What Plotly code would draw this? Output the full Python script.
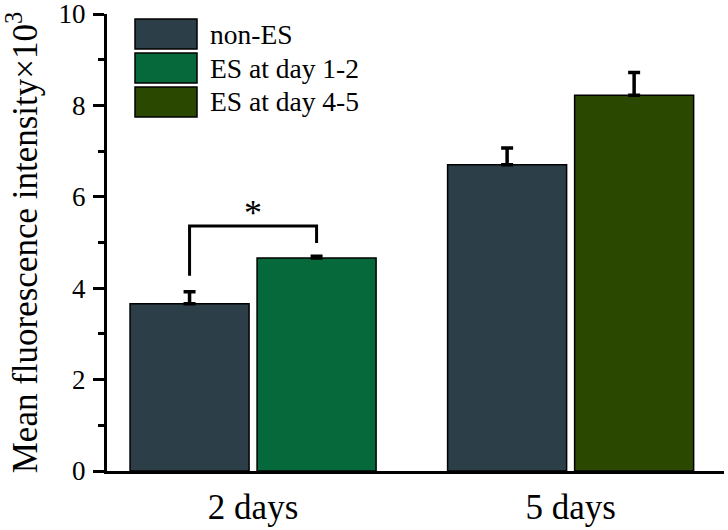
import plotly.graph_objects as go

# ---- data ----
groups = ["2 days", "5 days"]
non_es_vals = [3.66, 6.70]
non_es_err = [0.26, 0.37]
es12_groups = ["2 days"]
es12_vals = [4.66]
es12_err = [0.04]
es45_groups = ["5 days"]
es45_vals = [8.22]
es45_err = [0.50]
series_names = ["non-ES", "ES at day 1-2", "ES at day 4-5"]
series_colors = ["#2C3E47", "#06693B", "#2A4800"]
y_ticks = [0, 2, 4, 6, 8, 10]
sig_label = "*"
sig_levels = [4.27, 5.36, 4.99]  # left foot, top, right foot of bracket

FONT = "Liberation Serif, Times New Roman, serif"
W, H = 728, 530
L, R, T, B = 107, 4, 14, 59

fig = go.Figure()
err_style = dict(type="data", symmetric=False, thickness=3.5, width=6, color="black")

fig.add_trace(go.Bar(
    x=groups, y=non_es_vals, name=series_names[0], offsetgroup="a",
    marker=dict(color=series_colors[0], line=dict(color="black", width=1.5)),
    error_y=dict(array=non_es_err, arrayminus=[0] * len(non_es_err), **err_style),
    showlegend=False,
))
fig.add_trace(go.Bar(
    x=es12_groups, y=es12_vals, name=series_names[1], offsetgroup="b",
    marker=dict(color=series_colors[1], line=dict(color="black", width=1.5)),
    error_y=dict(array=es12_err, arrayminus=[0] * len(es12_err), **err_style),
    showlegend=False,
))
fig.add_trace(go.Bar(
    x=es45_groups, y=es45_vals, name=series_names[2], offsetgroup="b",
    marker=dict(color=series_colors[2], line=dict(color="black", width=1.5)),
    error_y=dict(array=es45_err, arrayminus=[0] * len(es45_err), **err_style),
    showlegend=False,
))

bargap = 0.2
fig.update_layout(
    barmode="group", bargap=bargap, bargroupgap=0.063,
    width=W, height=H, margin=dict(l=L, r=R, t=T, b=B, autoexpand=False),
    plot_bgcolor="white", paper_bgcolor="white",
    font=dict(family=FONT, color="black"),
)

fig.update_xaxes(
    type="category", range=[-0.46, 1.483], automargin=False,
    showline=True, linecolor="black", linewidth=3,
    ticks="", showgrid=False, zeroline=False,
    tickfont=dict(size=35, family=FONT), ticklabelstandoff=3,
)
fig.update_yaxes(
    range=[0, 10.0005], tickvals=y_ticks, automargin=False,
    showline=True, linecolor="black", linewidth=3,
    ticks="outside", ticklen=11, tickwidth=3, tickcolor="black",
    minor=dict(tickvals=[1, 3, 5, 7, 9], ticks="outside", ticklen=6, tickwidth=3, tickcolor="black"),
    showgrid=False, zeroline=False, ticklabeloverflow="allow",
    tickfont=dict(size=27, family=FONT), ticklabelstandoff=2,
    title=dict(text="Mean fluorescence intensity×10<sup>3</sup>",
               font=dict(size=35, family=FONT), standoff=12),
)

# significance bracket between the two bars of the first group
slot = (1 - bargap) / 2
cx0 = 0 - slot / 2
cx1 = 0 + slot / 2
fig.add_shape(type="path",
              path=f"M {cx0} {sig_levels[0]} L {cx0} {sig_levels[1]} L {cx1} {sig_levels[1]} L {cx1} {sig_levels[2]}",
              xref="x", yref="y", line=dict(color="black", width=3))
fig.add_annotation(x=(cx0 + cx1) / 2, y=sig_levels[1], xref="x", yref="y",
                   text=sig_label, showarrow=False, yanchor="bottom", yshift=-9,
                   font=dict(size=36, family=FONT, color="black"))

# custom legend with large swatches
pw, ph = W - L - R, H - T - B
def px2paper(xp, yp):
    return (xp - L) / pw, (H - B - yp) / ph

box_x0, box_x1, box_h, box_top, step, text_x = 135, 197, 30, 19, 34, 208
for i, (nm, col) in enumerate(zip(series_names, series_colors)):
    y0p = box_top + i * step
    x0, y1 = px2paper(box_x0, y0p)
    x1, y0 = px2paper(box_x1, y0p + box_h)
    fig.add_shape(type="rect", xref="paper", yref="paper", x0=x0, x1=x1, y0=y0, y1=y1,
                  fillcolor=col, line=dict(color="black", width=1.5))
    tx, ty = px2paper(text_x, y0p + box_h / 2)
    fig.add_annotation(x=tx, y=ty, xref="paper", yref="paper", text=nm, showarrow=False,
                       xanchor="left", yanchor="middle",
                       font=dict(size=27.5, family=FONT, color="black"))

fig.write_html("out.html", config={"displayModeBar": False},
               post_script="document.body.style.margin='0';document.body.style.overflow='hidden';")
